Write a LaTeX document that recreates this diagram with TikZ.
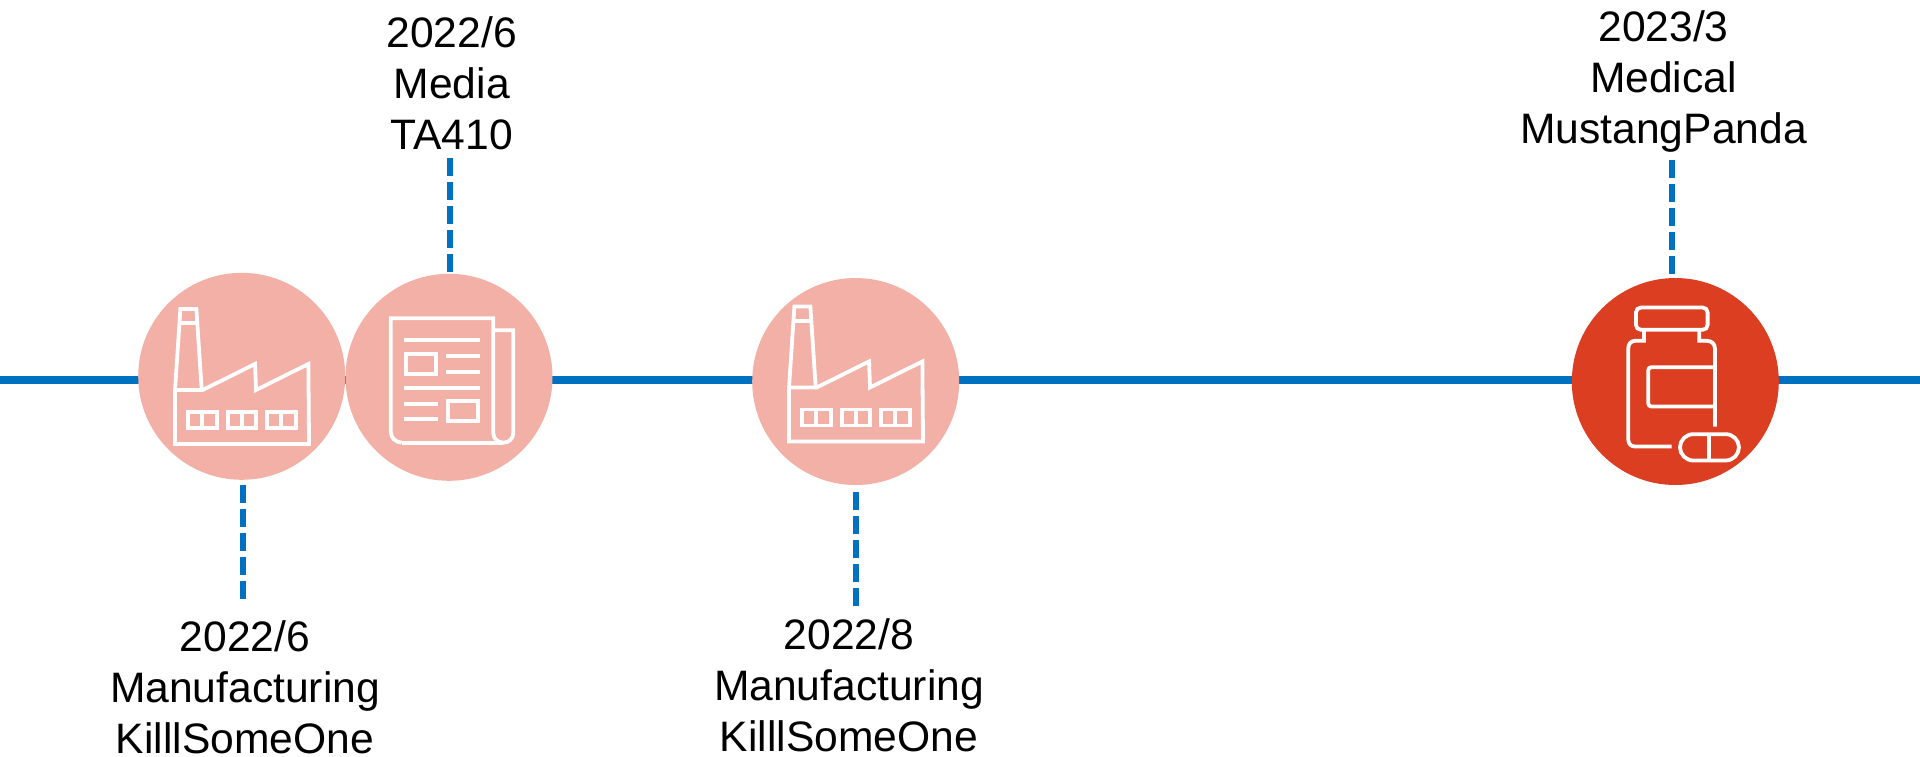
\documentclass[tikz,border=0pt]{standalone}
\usepackage{fontspec}
\setmainfont{Liberation Sans}
\definecolor{lineblue}{HTML}{0070C0}
\definecolor{palered}{HTML}{F2B0A6}
\definecolor{strongred}{HTML}{DC3E22}
\tikzset{
  hub/.style={circle,minimum size=207pt,inner sep=0pt,outer sep=0pt},
  icon/.style={draw=white,line width=3.8pt,fill=none,line join=miter},
  axisline/.style={draw=lineblue,line width=8pt},
  leader/.style={draw=lineblue,line width=6pt,dash pattern=on 18pt off 6pt},
  lbl/.style={align=center,font=\fontsize{42.6}{51}\selectfont,inner sep=0pt,outer sep=0pt}
}
\newcommand{\factoryicon}[2]{%
\begin{scope}[shift={(#1,#2)},x=0.3333pt,y=-0.3333pt]
\draw[icon] (-200,203) -- (-200,41) -- (-117,41) -- (40,-37) -- (43,41) -- (200,-37) -- (202,203) -- cycle;
\draw[icon] (-200,41) -- (-184,-202) -- (-136,-202) -- (-120,41);
\draw[icon] (-187,-159) -- (-133,-159);
\foreach \wx in {-160,-42,77}{
  \draw[icon] (\wx,107) rectangle (\wx+85,155);
  \draw[icon] (\wx+42,107) -- (\wx+42,155);
}
\end{scope}}
\newcommand{\newsicon}[2]{%
\begin{scope}[shift={(#1,#2)},x=0.3333pt,y=-0.3333pt]
\draw[icon,line join=miter] (-142,196) .. controls (-160,196) and (-175,181) .. (-175,163) -- (-175,-177) -- (133,-177) -- (133,168) .. controls (133,184) and (146,196) .. (163,196) .. controls (180,196) and (193,184) .. (193,166) -- (193,-141) -- (133,-141);
\draw[icon] (-142,196) -- (163,196);
\foreach \ya/\xa/\xb in {-112/-134/93,-64/-9/93,-17/-9/93,31/-134/93,79/-134/-33,125/-134/-33}{
  \draw[icon] (\xa,\ya) -- (\xb,\ya);
}
\draw[icon] (-129,-70) rectangle (-39,-10);
\draw[icon] (-3,72) rectangle (87,132);
\end{scope}}
\newcommand{\bottleicon}[2]{%
\begin{scope}[shift={(#1,#2)},x=0.3333pt,y=-0.3333pt]
\draw[icon,rounded corners=5pt] (-118,-222) rectangle (97,-155);
\draw[icon] (-11,195) -- (-121,195) .. controls (-133,195) and (-141,187) .. (-141,175) -- (-141,-100) .. controls (-141,-113) and (-133,-122) .. (-120,-122) -- (-94,-122) -- (-94,-155);
\draw[icon] (72,-155) -- (72,-122) -- (95,-122) .. controls (109,-122) and (119,-113) .. (119,-98) -- (119,135);
\draw[icon,rounded corners=3pt] (119,-43) -- (-81,-43) -- (-81,75) -- (119,75);
\draw[icon] (54,158) -- (151,158) .. controls (173,158) and (191,176) .. (191,197.5) .. controls (191,219) and (173,237) .. (151,237) -- (54,237) .. controls (32,237) and (14,219) .. (14,197.5) .. controls (14,176) and (32,158) .. (54,158) -- cycle;
\draw[icon] (101,158) -- (101,237);
\end{scope}}
\begin{document}
\begin{tikzpicture}[x=1pt,y=-1pt]
\useasboundingbox (0,0) rectangle (1920,756);
\coordinate (axisL) at (0,380);
\coordinate (axisR) at (1920,380);
\draw[axisline] (axisL) -- (axisR);
\node[hub,fill=palered] (fa) at (241.7,376.3) {};
\node[hub,fill=palered] (nw) at (449,377.3) {};
\node[hub,fill=palered] (fb) at (855.7,381.5) {};
\node[hub,fill=strongred] (md) at (1675.3,381.5) {};
\factoryicon{241.7}{376.3}
\newsicon{449}{377.3}
\factoryicon{855.7}{373.8}
\bottleicon{1675.3}{381.5}
\node[lbl] (la) at (245,687) {2022/6\\Manufacturing\\KilllSomeOne};
\node[lbl] (lb) at (451.7,82.8) {2022/6\\Media\\TA410};
\node[lbl] (lc) at (849,685.5) {2022/8\\Manufacturing\\KilllSomeOne};
\node[lbl] (ld) at (1663.5,81.5) {2023/3\\Medical\\MustangPanda};
\coordinate (ea) at (243,599.5);
\coordinate (sa) at (243,485.3);
\coordinate (eb) at (449.8,158.3);
\coordinate (sb) at (449.8,272.5);
\coordinate (ec) at (855.5,606.5);
\coordinate (sc) at (855.5,492.3);
\coordinate (ed) at (1671.5,159.5);
\coordinate (sd) at (1671.5,273.5);
\draw[leader] (sa) -- (ea);
\draw[leader] (eb) -- (sb);
\draw[leader] (sc) -- (ec);
\draw[leader] (ed) -- (sd);
\end{tikzpicture}
\end{document}
